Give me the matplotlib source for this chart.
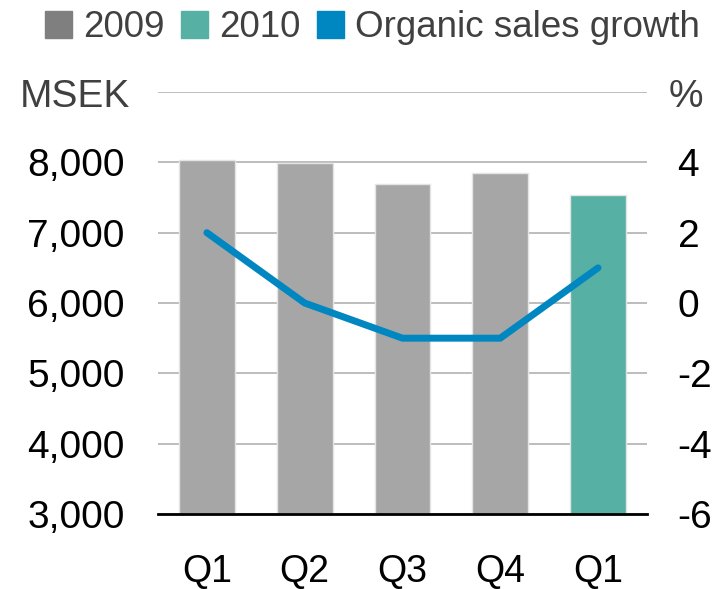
import matplotlib.pyplot as plt
from matplotlib.patches import Patch
import numpy as np

plt.rcParams['font.family'] = ['Liberation Sans', 'DejaVu Sans']

# data
quarters = ["Q1", "Q2", "Q3", "Q4", "Q1"]
years = ["2009", "2009", "2009", "2009", "2010"]
sales = [8030, 7995, 7685, 7855, 7530]          # MSEK
organic_growth = [2, 0, -1, -1, 1]               # %

left_ticks = [3000, 4000, 5000, 6000, 7000, 8000, 9000]
right_ticks = [-6, -4, -2, 0, 2, 4, 6]

col_2009 = "#a6a6a6"
col_2010 = "#56b1a4"
col_line = "#0087c1"
txt_grey = "#404040"

fig = plt.figure(figsize=(7.27, 5.89), dpi=100)
ax = fig.add_axes([0.2173, 0.1273, 0.6726, 0.7165])
ax2 = ax.twinx()

x = np.arange(len(quarters))
colors = [col_2009 if y == "2009" else col_2010 for y in years]
ax.bar(x, [s - 3000 for s in sales], bottom=3000, width=0.57, color=colors,
       edgecolor="#e4e4e4", linewidth=1, zorder=2)

ax.set_xlim(-0.5, len(quarters) - 0.5)
ax.set_ylim(3000, 9000)
ax.set_yticks(left_ticks)
ax.set_yticklabels([f"{v:,}" for v in left_ticks[:-1]] + [""])
ax.yaxis.grid(True, color="#b8b8b8", linewidth=1.3, zorder=0)
ax.set_axisbelow(True)
ax.set_xticks(x)
ax.set_xticklabels(quarters)
ax.tick_params(axis="y", length=0, labelsize=28, colors="black", pad=24)
ax.tick_params(axis="x", length=0, labelsize=27, colors="black", pad=29)
for s in ["top", "right", "left"]:
    ax.spines[s].set_visible(False)
ax.spines["bottom"].set_linewidth(2)
ax.spines["bottom"].set_color("black")
ax.spines["bottom"].set_zorder(5)

ax2.plot(x, organic_growth, color=col_line, linewidth=5,
         solid_capstyle="round", solid_joinstyle="round", zorder=3)
ax2.set_ylim(-6, 6)
ax2.set_yticks(right_ticks)
ax2.set_yticklabels([str(v) for v in right_ticks[:-1]] + [""])
ax2.tick_params(axis="y", length=0, labelsize=28, colors="black", pad=22)
for s in ["top", "right", "left", "bottom"]:
    ax2.spines[s].set_visible(False)

# axis unit labels
fig.text(0.027, 0.835, "MSEK", fontsize=28, color=txt_grey, va="center", ha="left")
fig.text(0.944, 0.835, "%", fontsize=28, color=txt_grey, va="center", ha="center")

handles = [Patch(color="#7f7f7f"), Patch(color=col_2010), Patch(color=col_line)]
fig.legend(handles, ["2009", "2010", "Organic sales growth"], loc="center right",
           bbox_to_anchor=(0.963, 0.953), ncol=3, frameon=False, fontsize=26.5,
           borderpad=0, borderaxespad=0,
           handlelength=0.73, handleheight=0.73, handletextpad=0.3,
           columnspacing=0.45, labelcolor=txt_grey)

fig.savefig("out.png", dpi=100)
